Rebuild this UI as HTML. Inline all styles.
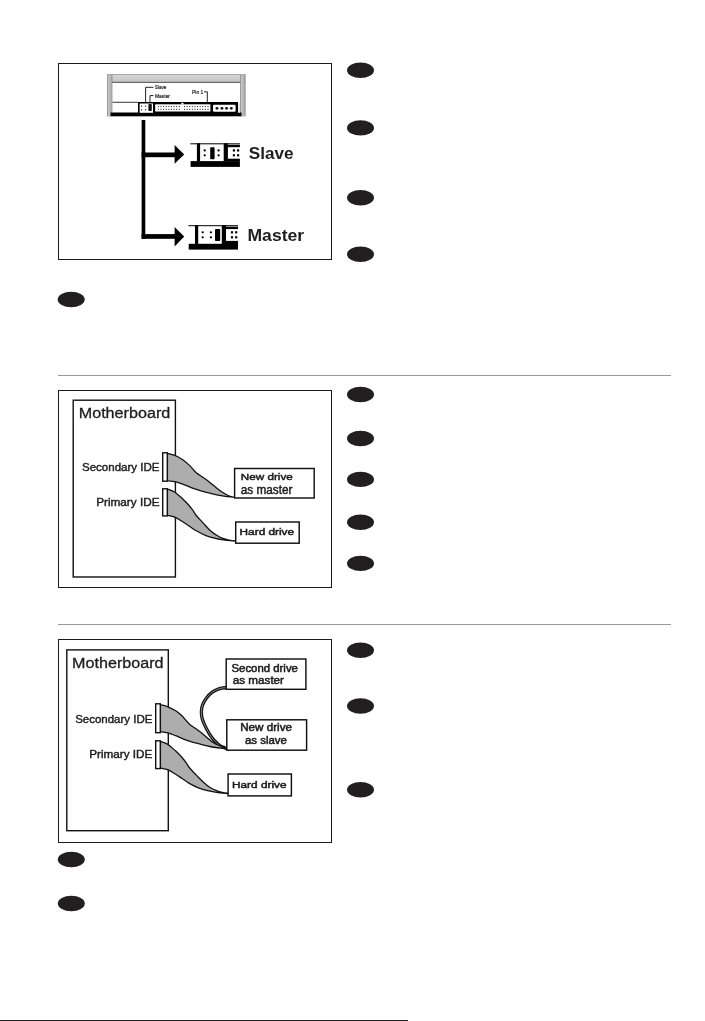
<!DOCTYPE html>
<html><head><meta charset="utf-8"><title>Drive installation</title>
<style>
html,body{margin:0;padding:0;background:#fff;}
body{width:705px;height:1021px;overflow:hidden;font-family:"Liberation Sans",sans-serif;}
svg{display:block;position:absolute;left:0;top:0;will-change:transform;opacity:0.9999;}
svg text{font-family:"Liberation Sans",sans-serif;}
</style></head><body>
<svg width="705" height="1021" viewBox="0 0 705 1021">
<rect x="0" y="0" width="705" height="1021" fill="#fff"/>
<ellipse cx="360.5" cy="70.3" rx="13.5" ry="7.7" fill="#231f20"/>
<ellipse cx="360.5" cy="127.9" rx="13.5" ry="7.7" fill="#231f20"/>
<ellipse cx="360.5" cy="197.8" rx="13.5" ry="7.7" fill="#231f20"/>
<ellipse cx="360.5" cy="254.2" rx="13.5" ry="7.7" fill="#231f20"/>
<ellipse cx="71.2" cy="299.5" rx="13.5" ry="7.7" fill="#231f20"/>
<ellipse cx="360.5" cy="394.5" rx="13.5" ry="7.7" fill="#231f20"/>
<ellipse cx="360.5" cy="438.5" rx="13.5" ry="7.7" fill="#231f20"/>
<ellipse cx="360.5" cy="479.4" rx="13.5" ry="7.7" fill="#231f20"/>
<ellipse cx="360.5" cy="522.2" rx="13.5" ry="7.7" fill="#231f20"/>
<ellipse cx="360.5" cy="563.4" rx="13.5" ry="7.7" fill="#231f20"/>
<ellipse cx="360.5" cy="650.2" rx="13.5" ry="7.7" fill="#231f20"/>
<ellipse cx="360.5" cy="706.0" rx="13.5" ry="7.7" fill="#231f20"/>
<ellipse cx="360.5" cy="789.8" rx="13.5" ry="7.7" fill="#231f20"/>
<ellipse cx="71.3" cy="859.5" rx="13.5" ry="7.7" fill="#231f20"/>
<ellipse cx="71.3" cy="903.5" rx="13.5" ry="7.7" fill="#231f20"/>
<rect x="58" y="375" width="613" height="1" fill="#9a9a9a"/>
<rect x="58" y="624" width="613" height="1" fill="#9a9a9a"/>
<rect x="0" y="1020" width="408" height="1" fill="#222"/>
<rect x="58.5" y="63.5" width="273" height="196" fill="#fff" stroke="#1a1a1a" stroke-width="1"/>
<rect x="58.5" y="390.5" width="273" height="197" fill="#fff" stroke="#1a1a1a" stroke-width="1"/>
<rect x="58.5" y="639.5" width="273" height="203" fill="#fff" stroke="#1a1a1a" stroke-width="1"/>
<defs><linearGradient id="gtop" x1="0" y1="0" x2="0" y2="1"><stop offset="0" stop-color="#8a8a8a"/><stop offset="0.15" stop-color="#d6d6d6"/><stop offset="0.8" stop-color="#c4c4c4"/><stop offset="1" stop-color="#6a6a6a"/></linearGradient><linearGradient id="gside" x1="0" y1="0" x2="1" y2="0"><stop offset="0" stop-color="#8a8a8a"/><stop offset="0.3" stop-color="#c8c8c8"/><stop offset="1" stop-color="#9a9a9a"/></linearGradient></defs>
<rect x="107" y="74" width="138.5" height="42.5" fill="#b4b4b4"/>
<rect x="107" y="74" width="138.5" height="9" fill="url(#gtop)"/>
<rect x="107" y="75" width="5.5" height="41" fill="url(#gside)"/>
<rect x="240" y="75" width="5.5" height="41" fill="url(#gside)"/>
<rect x="112.5" y="83" width="127.5" height="30" fill="#fff"/>
<rect x="112" y="82" width="128.5" height="1" fill="#666"/>
<rect x="110.5" y="112.5" width="131" height="3.7" fill="#000"/>
<rect x="112.5" y="101.8" width="26" height="0.9" fill="#222"/>
<rect x="138" y="102" width="100" height="11" fill="#000"/>
<rect x="139.6" y="103.5" width="13.4" height="9.3" fill="#fff"/>
<rect x="141.0" y="105.60000000000001" width="1.2" height="1.2" fill="#333"/>
<rect x="141.0" y="109.2" width="1.2" height="1.2" fill="#333"/>
<rect x="145.0" y="105.60000000000001" width="1.2" height="1.2" fill="#333"/>
<rect x="145.0" y="109.2" width="1.2" height="1.2" fill="#333"/>
<rect x="148.4" y="104" width="3.4" height="7" rx="0.8" fill="#111"/>
<rect x="155.2" y="104.3" width="55.2" height="7.2" fill="#fff"/>
<rect x="181.3" y="102.8" width="2.2" height="1.8" fill="#fff"/>
<rect x="157.85" y="105.9" width="1.1" height="1.2" fill="#444"/>
<rect x="157.85" y="108.80000000000001" width="1.1" height="1.2" fill="#444"/>
<rect x="160.46" y="105.9" width="1.1" height="1.2" fill="#444"/>
<rect x="160.46" y="108.80000000000001" width="1.1" height="1.2" fill="#444"/>
<rect x="163.07" y="105.9" width="1.1" height="1.2" fill="#444"/>
<rect x="163.07" y="108.80000000000001" width="1.1" height="1.2" fill="#444"/>
<rect x="165.68" y="105.9" width="1.1" height="1.2" fill="#444"/>
<rect x="165.68" y="108.80000000000001" width="1.1" height="1.2" fill="#444"/>
<rect x="168.29" y="105.9" width="1.1" height="1.2" fill="#444"/>
<rect x="168.29" y="108.80000000000001" width="1.1" height="1.2" fill="#444"/>
<rect x="170.90" y="105.9" width="1.1" height="1.2" fill="#444"/>
<rect x="170.90" y="108.80000000000001" width="1.1" height="1.2" fill="#444"/>
<rect x="173.51" y="105.9" width="1.1" height="1.2" fill="#444"/>
<rect x="173.51" y="108.80000000000001" width="1.1" height="1.2" fill="#444"/>
<rect x="176.12" y="105.9" width="1.1" height="1.2" fill="#444"/>
<rect x="176.12" y="108.80000000000001" width="1.1" height="1.2" fill="#444"/>
<rect x="178.73" y="105.9" width="1.1" height="1.2" fill="#444"/>
<rect x="178.73" y="108.80000000000001" width="1.1" height="1.2" fill="#444"/>
<rect x="183.96" y="105.9" width="1.1" height="1.2" fill="#444"/>
<rect x="183.96" y="108.80000000000001" width="1.1" height="1.2" fill="#444"/>
<rect x="186.57" y="105.9" width="1.1" height="1.2" fill="#444"/>
<rect x="186.57" y="108.80000000000001" width="1.1" height="1.2" fill="#444"/>
<rect x="189.18" y="105.9" width="1.1" height="1.2" fill="#444"/>
<rect x="189.18" y="108.80000000000001" width="1.1" height="1.2" fill="#444"/>
<rect x="191.79" y="105.9" width="1.1" height="1.2" fill="#444"/>
<rect x="191.79" y="108.80000000000001" width="1.1" height="1.2" fill="#444"/>
<rect x="194.40" y="105.9" width="1.1" height="1.2" fill="#444"/>
<rect x="194.40" y="108.80000000000001" width="1.1" height="1.2" fill="#444"/>
<rect x="197.01" y="105.9" width="1.1" height="1.2" fill="#444"/>
<rect x="197.01" y="108.80000000000001" width="1.1" height="1.2" fill="#444"/>
<rect x="199.62" y="105.9" width="1.1" height="1.2" fill="#444"/>
<rect x="199.62" y="108.80000000000001" width="1.1" height="1.2" fill="#444"/>
<rect x="202.23" y="105.9" width="1.1" height="1.2" fill="#444"/>
<rect x="202.23" y="108.80000000000001" width="1.1" height="1.2" fill="#444"/>
<rect x="204.84" y="105.9" width="1.1" height="1.2" fill="#444"/>
<rect x="204.84" y="108.80000000000001" width="1.1" height="1.2" fill="#444"/>
<rect x="207.45" y="105.9" width="1.1" height="1.2" fill="#444"/>
<rect x="207.45" y="108.80000000000001" width="1.1" height="1.2" fill="#444"/>
<rect x="213" y="104.8" width="22.6" height="6.9" rx="1" fill="#fff"/>
<circle cx="217" cy="108.3" r="1.4" fill="#111"/>
<circle cx="222" cy="108.3" r="1.4" fill="#111"/>
<circle cx="226.6" cy="108.3" r="1.4" fill="#111"/>
<circle cx="231.3" cy="108.3" r="1.4" fill="#111"/>
<rect x="238" y="103" width="2" height="9.5" fill="#e8e8e8"/>
<path d="M145.6 102 V87.3 H153.5" fill="none" stroke="#222" stroke-width="1"/>
<path d="M150 102 V95.6 H153.5" fill="none" stroke="#222" stroke-width="1"/>
<path d="M204 91.8 H207.3 V102" fill="none" stroke="#222" stroke-width="1"/>
<text x="154.8" y="89.4" font-size="5.4" textLength="11.5" lengthAdjust="spacingAndGlyphs" fill="#222" stroke="#222" stroke-width="0.2">Slave</text>
<text x="155" y="97.5" font-size="5.4" textLength="15" lengthAdjust="spacingAndGlyphs" fill="#222" stroke="#222" stroke-width="0.2">Master</text>
<text x="192" y="93.6" font-size="5.4" textLength="11.3" lengthAdjust="spacingAndGlyphs" fill="#222" stroke="#222" stroke-width="0.2">Pin 1</text>
<rect x="141.6" y="120" width="3.7" height="118.8" fill="#000"/>
<rect x="141.6" y="152.5" width="34" height="4.7" fill="#000"/>
<polygon points="174.6,145 184.2,154.6 174.6,163.8" fill="#000"/>
<rect x="141.6" y="234.1" width="34" height="4.7" fill="#000"/>
<polygon points="174.6,227 184.2,236.5 174.6,246.5" fill="#000"/>
<rect x="190.3" y="143.3" width="49.6" height="1" fill="#000"/><rect x="196.9" y="143.3" width="3.2" height="18.0" fill="#000"/><rect x="190.60000000000002" y="161.10000000000002" width="49.3" height="5.8" fill="#000"/><rect x="223.70000000000002" y="143.3" width="4.2" height="18.0" fill="#000"/><rect x="227.8" y="144.8" width="12.1" height="2.4" fill="#000"/><rect x="227.8" y="158.70000000000002" width="12.1" height="2.6000000000000005" fill="#000"/><circle cx="204.70000000000002" cy="150.4" r="1.15" fill="#000"/><circle cx="204.70000000000002" cy="155.3" r="1.15" fill="#000"/><rect x="210.20000000000002" y="147.20000000000002" width="4.4" height="12" rx="0.8" fill="#000"/><circle cx="218.60000000000002" cy="150.4" r="1.15" fill="#000"/><circle cx="218.60000000000002" cy="155.3" r="1.15" fill="#000"/><rect x="232.8" y="149.3" width="2.2" height="2.2" fill="#000"/><rect x="232.8" y="154.20000000000002" width="2.2" height="2.2" fill="#000"/><rect x="237.00000000000003" y="149.3" width="2.2" height="2.2" fill="#000"/><rect x="237.00000000000003" y="154.20000000000002" width="2.2" height="2.2" fill="#000"/>
<rect x="188.4" y="225.2" width="49.6" height="1" fill="#000"/><rect x="195.0" y="225.2" width="3.2" height="18.8" fill="#000"/><rect x="188.70000000000002" y="243.79999999999998" width="49.3" height="5.8" fill="#000"/><rect x="221.8" y="225.2" width="4.2" height="18.8" fill="#000"/><rect x="225.9" y="226.7" width="12.1" height="2.4" fill="#000"/><rect x="225.9" y="240.89999999999998" width="12.1" height="3.1000000000000023" fill="#000"/><circle cx="202.70000000000002" cy="232.29999999999998" r="1.15" fill="#000"/><circle cx="202.70000000000002" cy="237.29999999999998" r="1.15" fill="#000"/><circle cx="210.9" cy="232.29999999999998" r="1.15" fill="#000"/><circle cx="210.9" cy="237.29999999999998" r="1.15" fill="#000"/><rect x="215.0" y="229.1" width="5.2" height="12" rx="0.8" fill="#000"/><rect x="230.9" y="231.2" width="2.2" height="2.2" fill="#000"/><rect x="230.9" y="236.2" width="2.2" height="2.2" fill="#000"/><rect x="235.1" y="231.2" width="2.2" height="2.2" fill="#000"/><rect x="235.1" y="236.2" width="2.2" height="2.2" fill="#000"/>
<text x="248.8" y="158.9" font-size="16.6" font-weight="bold" textLength="44.8" lengthAdjust="spacingAndGlyphs" fill="#1e1e1e">Slave</text>
<text x="247.5" y="240.9" font-size="15.6" font-weight="bold" textLength="56.6" lengthAdjust="spacingAndGlyphs" fill="#1e1e1e">Master</text>
<rect x="73.2" y="400.2" width="102.2" height="176.8" fill="none" stroke="#111" stroke-width="1.4"/>
<text x="78.7" y="417.9" font-size="15.3" textLength="91.6" lengthAdjust="spacingAndGlyphs" fill="#1c1c1c" stroke="#1c1c1c" stroke-width="0.3">Motherboard</text>
<text x="82" y="471.1" font-size="11" textLength="77.5" lengthAdjust="spacingAndGlyphs" fill="#1c1c1c" stroke="#1c1c1c" stroke-width="0.4">Secondary IDE</text>
<text x="96.2" y="506.4" font-size="10.1" textLength="63.3" lengthAdjust="spacingAndGlyphs" fill="#1c1c1c" stroke="#1c1c1c" stroke-width="0.4">Primary IDE</text>
<path d="M167.4 453.3 C168.6 453.6 172.2 454.3 174.8 455.4 C177.4 456.5 180.2 458.1 182.7 459.8 C185.1 461.5 187.4 463.4 189.5 465.4 C191.6 467.4 193.9 470.3 195.2 471.7 C196.5 473.1 195.7 472.4 197.4 473.6 C199.1 474.8 202.8 477.1 205.4 479.0 C208.1 480.9 210.7 483.2 213.3 485.3 C216.0 487.4 218.8 489.8 221.3 491.5 C223.8 493.2 225.9 494.5 228.1 495.5 C230.2 496.5 233.2 497.0 234.2 497.3 L234.2 497.3 C233.2 497.2 231.0 497.1 228.1 496.7 C225.2 496.3 220.5 495.7 216.7 494.9 C212.9 494.1 209.2 493.1 205.4 492.1 C201.6 491.1 197.8 490.0 194.0 488.7 C190.2 487.4 185.9 485.3 182.7 484.1 C179.5 482.9 177.4 482.2 174.8 481.6 C172.2 481.0 168.6 480.8 167.4 480.6 Z" fill="#adadad" stroke="#111" stroke-width="1.3" stroke-linejoin="round"/>
<path d="M167.4 489.0 C168.6 489.5 172.2 490.5 174.8 492.2 C177.4 493.9 180.4 496.9 182.7 499.0 C185.0 501.1 186.7 502.8 188.4 504.7 C190.1 506.6 191.6 508.6 192.9 510.4 C194.2 512.2 194.6 513.4 196.3 515.5 C198.0 517.6 200.8 520.4 203.1 522.9 C205.4 525.4 207.6 528.1 209.9 530.2 C212.2 532.3 214.4 533.9 216.7 535.3 C219.0 536.7 221.4 537.9 223.5 538.7 C225.6 539.5 227.2 539.7 229.2 540.1 C231.2 540.5 234.4 540.8 235.5 540.9 L235.5 541.1 C233.5 540.9 227.0 540.4 223.5 539.9 C220.0 539.4 217.5 539.0 214.5 538.2 C211.5 537.4 208.4 536.5 205.4 535.3 C202.4 534.1 199.0 532.3 196.3 530.8 C193.7 529.3 191.8 527.8 189.5 526.3 C187.2 524.8 185.1 523.2 182.7 521.7 C180.2 520.2 177.4 518.2 174.8 517.2 C172.2 516.2 168.6 515.7 167.4 515.4 Z" fill="#adadad" stroke="#111" stroke-width="1.3" stroke-linejoin="round"/>
<rect x="162.7" y="452.8" width="4.6" height="28.399999999999956" fill="#fff" stroke="#111" stroke-width="1.4"/>
<rect x="162.7" y="488.8" width="4.6" height="27.1" fill="#fff" stroke="#111" stroke-width="1.4"/>
<rect x="234.6" y="468.5" width="79.6" height="29.5" fill="#fff" stroke="#111" stroke-width="1.45"/>
<text x="240.8" y="480.2" font-size="9.6" textLength="52" lengthAdjust="spacingAndGlyphs" fill="#1c1c1c" stroke="#1c1c1c" stroke-width="0.45">New drive</text>
<text x="240.8" y="493.5" font-size="12.2" textLength="51.6" lengthAdjust="spacingAndGlyphs" fill="#1c1c1c" stroke="#1c1c1c" stroke-width="0.45">as master</text>
<rect x="235.7" y="522" width="63.5" height="21.2" fill="#fff" stroke="#111" stroke-width="1.45"/>
<text x="239.6" y="535.1" font-size="9.6" textLength="54.5" lengthAdjust="spacingAndGlyphs" fill="#1c1c1c" stroke="#1c1c1c" stroke-width="0.5">Hard drive</text>
<rect x="66.8" y="649.9" width="101.5" height="180.8" fill="none" stroke="#111" stroke-width="1.4"/>
<text x="72.1" y="668.2" font-size="15.3" textLength="91.4" lengthAdjust="spacingAndGlyphs" fill="#1c1c1c" stroke="#1c1c1c" stroke-width="0.3">Motherboard</text>
<text x="75.2" y="722.7" font-size="11" textLength="77.2" lengthAdjust="spacingAndGlyphs" fill="#1c1c1c" stroke="#1c1c1c" stroke-width="0.4">Secondary IDE</text>
<text x="89.3" y="758.3" font-size="10.1" textLength="63" lengthAdjust="spacingAndGlyphs" fill="#1c1c1c" stroke="#1c1c1c" stroke-width="0.4">Primary IDE</text>
<path d="M226.5 687.6 C225.3 687.8 221.9 687.8 219.5 688.6 C217.1 689.4 214.5 690.6 212.3 692.2 C210.1 693.8 207.8 696.3 206.2 698.4 C204.6 700.5 203.4 702.7 202.6 704.8 C201.8 706.9 201.5 708.7 201.4 711.0 C201.3 713.3 201.3 715.7 202.2 718.7 C203.1 721.7 204.9 725.7 206.6 728.9 C208.3 732.1 210.3 735.5 212.2 738.0 C214.0 740.5 216.1 742.4 217.7 743.9 C219.3 745.4 220.5 746.0 222.0 746.8 C223.5 747.6 226.0 748.3 226.8 748.6" fill="none" stroke="#111" stroke-width="3.3"/>
<path d="M226.5 687.6 C225.3 687.8 221.9 687.8 219.5 688.6 C217.1 689.4 214.5 690.6 212.3 692.2 C210.1 693.8 207.8 696.3 206.2 698.4 C204.6 700.5 203.4 702.7 202.6 704.8 C201.8 706.9 201.5 708.7 201.4 711.0 C201.3 713.3 201.3 715.7 202.2 718.7 C203.1 721.7 204.9 725.7 206.6 728.9 C208.3 732.1 210.3 735.5 212.2 738.0 C214.0 740.5 216.1 742.4 217.7 743.9 C219.3 745.4 220.5 746.0 222.0 746.8 C223.5 747.6 226.0 748.3 226.8 748.6" fill="none" stroke="#a8a8a8" stroke-width="0.8"/>
<path d="M160.4 704.7 C161.6 705.1 165.2 705.8 167.8 706.8 C170.3 707.8 173.4 709.4 175.7 710.8 C178.0 712.2 179.5 713.5 181.4 715.3 C183.3 717.1 185.5 719.9 187.0 721.5 C188.5 723.1 188.5 723.4 190.4 724.9 C192.3 726.4 195.8 728.6 198.4 730.6 C201.1 732.6 203.9 734.9 206.3 736.9 C208.8 738.9 210.8 741.0 213.1 742.5 C215.4 744.0 217.7 744.9 220.0 745.9 C222.3 746.9 225.8 748.1 227.0 748.5 L227.0 748.9 C226.0 748.8 224.0 748.6 221.1 748.2 C218.2 747.8 213.5 747.2 209.7 746.5 C205.9 745.8 202.2 744.7 198.4 743.7 C194.6 742.7 190.8 741.6 187.0 740.3 C183.2 739.0 178.9 736.9 175.7 735.7 C172.5 734.5 170.3 733.6 167.8 732.9 C165.2 732.2 161.6 731.8 160.4 731.6 Z" fill="#adadad" stroke="#111" stroke-width="1.3" stroke-linejoin="round"/>
<path d="M160.4 741.4 C161.6 741.9 165.2 742.8 167.8 744.4 C170.3 746.0 173.4 749.0 175.7 751.0 C178.0 753.0 179.7 754.8 181.4 756.7 C183.1 758.6 184.6 760.6 185.9 762.4 C187.2 764.2 187.6 765.4 189.3 767.5 C191.0 769.6 193.8 772.5 196.1 774.9 C198.4 777.2 200.6 779.6 202.9 781.7 C205.2 783.8 207.4 785.8 209.7 787.3 C212.0 788.8 214.4 789.9 216.5 790.7 C218.6 791.6 220.3 792.0 222.2 792.4 C224.1 792.8 227.0 793.1 228.0 793.2 L228.0 793.6 C226.1 793.4 219.9 792.9 216.5 792.4 C213.1 791.9 210.5 791.5 207.5 790.7 C204.5 790.0 201.4 789.1 198.4 787.9 C195.4 786.7 192.0 784.9 189.3 783.4 C186.7 781.9 184.8 780.3 182.5 778.8 C180.2 777.3 178.2 775.8 175.7 774.3 C173.2 772.8 170.3 770.8 167.8 769.7 C165.2 768.7 161.6 768.3 160.4 768.0 Z" fill="#adadad" stroke="#111" stroke-width="1.3" stroke-linejoin="round"/>
<rect x="155.7" y="703.8000000000001" width="4.6" height="28.899999999999956" fill="#fff" stroke="#111" stroke-width="1.4"/>
<rect x="155.7" y="740.8000000000001" width="4.6" height="27.799999999999933" fill="#fff" stroke="#111" stroke-width="1.4"/>
<rect x="226.2" y="659" width="79.7" height="30.3" fill="#fff" stroke="#111" stroke-width="1.45"/>
<text x="231.5" y="671.7" font-size="10.2" textLength="66.4" lengthAdjust="spacingAndGlyphs" fill="#1c1c1c" stroke="#1c1c1c" stroke-width="0.5">Second drive</text>
<text x="232.8" y="684.4" font-size="11.3" textLength="51.2" lengthAdjust="spacingAndGlyphs" fill="#1c1c1c" stroke="#1c1c1c" stroke-width="0.5">as master</text>
<rect x="226.8" y="719.8" width="79.8" height="30.4" fill="#fff" stroke="#111" stroke-width="1.45"/>
<text x="240.2" y="730.6" font-size="10.3" textLength="51.8" lengthAdjust="spacingAndGlyphs" fill="#1c1c1c" stroke="#1c1c1c" stroke-width="0.5">New drive</text>
<text x="245" y="744.3" font-size="10.8" textLength="41.8" lengthAdjust="spacingAndGlyphs" fill="#1c1c1c" stroke="#1c1c1c" stroke-width="0.5">as slave</text>
<rect x="228.1" y="774" width="63.3" height="21.9" fill="#fff" stroke="#111" stroke-width="1.45"/>
<text x="232" y="788" font-size="9.7" textLength="54.5" lengthAdjust="spacingAndGlyphs" fill="#1c1c1c" stroke="#1c1c1c" stroke-width="0.5">Hard drive</text>
</svg>
</body></html>
